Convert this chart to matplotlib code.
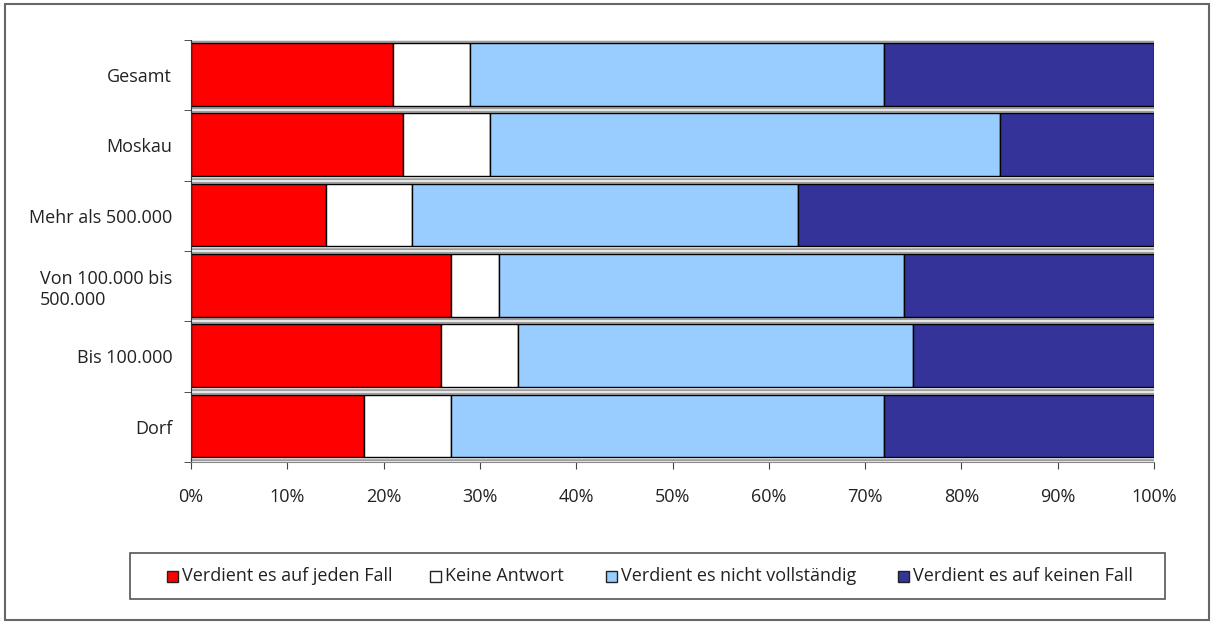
import matplotlib
matplotlib.use("Agg")
import matplotlib.pyplot as plt
from matplotlib.patches import Rectangle

categories = ["Gesamt", "Moskau", "Mehr als 500.000", "Von 100.000 bis\n500.000", "Bis 100.000", "Dorf"]
series_names = ["Verdient es auf jeden Fall", "Keine Antwort", "Verdient es nicht vollständig", "Verdient es auf keinen Fall"]
auf_jeden_fall = [21, 22, 14, 27, 26, 18]
keine_antwort = [8, 9, 9, 5, 8, 9]
nicht_vollstaendig = [43, 53, 40, 42, 41, 45]
auf_keinen_fall = [28, 16, 37, 26, 25, 28]
colors = ["#FF0000", "#FFFFFF", "#99CCFF", "#333399"]
xticks = [0, 10, 20, 30, 40, 50, 60, 70, 80, 90, 100]
xticklabels = [f"{t}%" for t in xticks]

plt.rcParams['font.family'] = ['Open Sans', 'DejaVu Sans']
FS = 13

W, H = 1213, 625
fig = plt.figure(figsize=(W / 100, H / 100), dpi=100)
ax = fig.add_axes([191 / W, 1 - 462 / H, (1154 - 191) / W, (462 - 40) / H])

n = len(categories)
ypos = list(range(n))
# light grey separator strips (3D floor look)
for i in range(n + 1):
    ax.axhline(i - 0.5, color="#9a9a9a", linewidth=4, zorder=0.5)
    ax.axhline(i - 0.5, color="#e6e6e6", linewidth=1.5, zorder=0.6)

series = [auf_jeden_fall, keine_antwort, nicht_vollstaendig, auf_keinen_fall]
left = [0] * n
for vals, col, name in zip(series, colors, series_names):
    ax.barh([y - 0.01 for y in ypos], vals, left=left, height=0.89, color=col,
            edgecolor="black", linewidth=1.0, label=name, zorder=2)
    left = [l + v for l, v in zip(left, vals)]

ax.set_xlim(0, 100)
ax.set_ylim(n - 0.5, -0.5)
ax.set_yticks(ypos)
ax.set_yticklabels(categories, fontsize=FS, color="#222222")
for lab in ax.get_yticklabels():
    lab.set_multialignment('left')
ax.set_xticks(xticks)
ax.set_xticklabels(xticklabels, fontsize=FS, color="#222222")
ax.tick_params(axis='x', length=5, pad=14, color="#444444")
ax.tick_params(axis='y', which='major', length=0, pad=13.5)
ax.set_yticks([i - 0.5 for i in range(n + 1)], minor=True)
ax.tick_params(axis='y', which='minor', length=5, color="#333333")

for s in ["top", "right"]:
    ax.spines[s].set_visible(False)
ax.spines["left"].set_color("#333333")
ax.spines["bottom"].set_color("#888888")

# manual legend laid out like the original
def fx(px):
    return px / W

def fy(py):
    return 1 - py / H

fig.patches.append(Rectangle((fx(130), fy(599)), fx(1165) - fx(130), fy(553) - fy(599),
                             transform=fig.transFigure, fill=False,
                             edgecolor="#555555", linewidth=1.2))
marker_x = [167, 430, 606, 898]
for mx, col, name in zip(marker_x, colors, series_names):
    fig.patches.append(Rectangle((fx(mx), fy(582)), 11 / W, 11 / H,
                                 transform=fig.transFigure, facecolor=col,
                                 edgecolor="#222222", linewidth=1.0))
    fig.text(fx(mx + 15), fy(576), name, fontsize=FS, va="center", ha="left",
             color="#222222")

fig.patches.append(Rectangle((0.004, 0.008), 0.993, 0.985, transform=fig.transFigure,
                             fill=False, edgecolor="#666666", linewidth=1.5))

fig.savefig("out.png", dpi=100)
